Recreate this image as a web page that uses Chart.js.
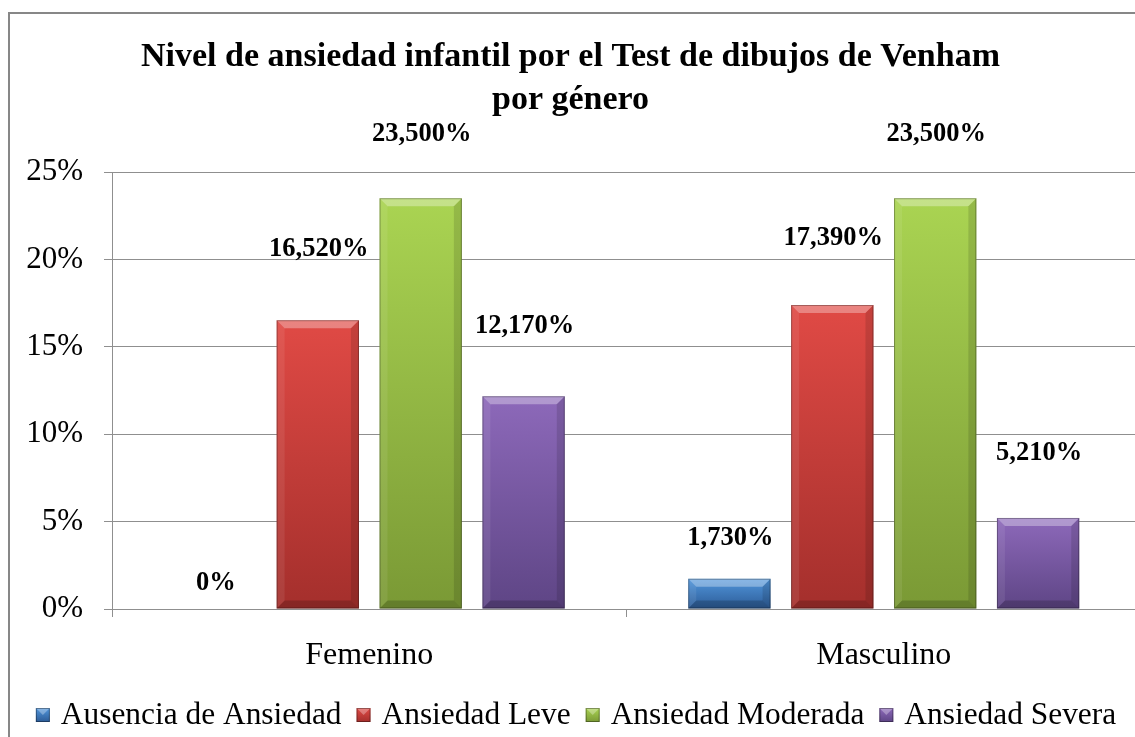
<!DOCTYPE html>
<html>
<head>
<meta charset="utf-8">
<script src="https://cdn.jsdelivr.net/npm/chart.js@4/dist/chart.umd.min.js"></script>
<style>
  html, body { margin: 0; padding: 0; background: #ffffff; overflow: hidden; }
  #wrap { position: absolute; left: 0; top: 0; width: 1152px; height: 737px; }
</style>
</head>
<body>
<div id="wrap"><canvas id="c" width="1152" height="737"></canvas></div>
<script>
// ---- data ----
const categories = ['Femenino', 'Masculino'];
const seriesNames = ['Ausencia de Ansiedad', 'Ansiedad Leve', 'Ansiedad Moderada', 'Ansiedad Severa'];
const ausencia = [0, 1.73];
const leve = [16.52, 17.39];
const moderada = [23.5, 23.5];
const severa = [12.17, 5.21];
const yTicks = [0, 5, 10, 15, 20, 25];
const titleLines = ['Nivel de ansiedad infantil por el Test de dibujos de Venham', 'por género'];

// ---- style ----
const SERIF = "'Liberation Serif', 'Times New Roman', serif";
const palette = [
  { top: '#5196DC', bottom: '#2C5B96' },
  { top: '#E04A45', bottom: '#A42F2C' },
  { top: '#AAD452', bottom: '#7A9935' },
  { top: '#8D69BA', bottom: '#5E4585' }
];
// vertical distance (px) from bar top to the centre of each value label, per series / category
const labelOffsets = [[26, 41], [71, 67], [64, 64], [70, 65]];
const GRID = '#8f8f8f';

function fmt(v) {
  return v === 0 ? '0%' : v.toFixed(3).replace('.', ',') + '%';
}

function barGradient(idx) {
  return function (ctx) {
    const chart = ctx.chart;
    const ys = chart.scales && chart.scales.y;
    if (!ys || ctx.parsed == null || ctx.parsed.y == null) return palette[idx].top;
    const yTop = ys.getPixelForValue(ctx.parsed.y);
    const yBase = ys.getPixelForValue(0);
    if (!isFinite(yTop) || Math.abs(yBase - yTop) < 1) return palette[idx].top;
    const g = chart.ctx.createLinearGradient(0, yTop, 0, yBase);
    g.addColorStop(0, palette[idx].top);
    g.addColorStop(1, palette[idx].bottom);
    return g;
  };
}

const borderPlugin = {
  id: 'frame',
  beforeDraw(chart) {
    const c = chart.ctx;
    c.save();
    c.fillStyle = '#ffffff';
    c.fillRect(0, 0, chart.width, chart.height);
    c.strokeStyle = '#878787';
    c.lineWidth = 2;
    c.beginPath();
    c.moveTo(9, chart.height + 5);
    c.lineTo(9, 13);
    c.lineTo(chart.width + 5, 13);
    c.stroke();
    c.restore();
  }
};

const bevelPlugin = {
  id: 'bevel',
  afterDatasetsDraw(chart) {
    const c = chart.ctx;
    chart.data.datasets.forEach((ds, di) => {
      const meta = chart.getDatasetMeta(di);
      meta.data.forEach((bar) => {
        const x0 = bar.x - bar.width / 2, x1 = bar.x + bar.width / 2;
        const y0 = bar.y, y1 = bar.base;
        const h = y1 - y0;
        if (h < 1) return;
        const b = Math.min(8, h / 2);
        c.save();
        const poly = (pts, col) => {
          c.beginPath();
          c.moveTo(pts[0][0], pts[0][1]);
          for (let i = 1; i < pts.length; i++) c.lineTo(pts[i][0], pts[i][1]);
          c.closePath();
          c.fillStyle = col;
          c.fill();
        };
        poly([[x0, y0], [x1, y0], [x1 - b, y0 + b], [x0 + b, y0 + b]], 'rgba(255,255,255,0.32)');
        poly([[x0, y0], [x0 + b, y0 + b], [x0 + b, y1 - b], [x0, y1]], 'rgba(255,255,255,0.08)');
        poly([[x1, y0], [x1, y1], [x1 - b, y1 - b], [x1 - b, y0 + b]], 'rgba(0,0,0,0.12)');
        poly([[x0, y1], [x1, y1], [x1 - b, y1 - b], [x0 + b, y1 - b]], 'rgba(0,0,0,0.18)');
        c.strokeStyle = 'rgba(0,0,0,0.30)';
        c.lineWidth = 1;
        c.strokeRect(x0 + 0.5, y0 + 0.5, bar.width - 1, h - 1);
        c.restore();
      });
    });
  }
};

const valueLabelPlugin = {
  id: 'valueLabels',
  afterDatasetsDraw(chart) {
    const c = chart.ctx;
    c.save();
    c.font = 'bold 26.5px ' + SERIF;
    c.fillStyle = '#000000';
    c.textAlign = 'center';
    c.textBaseline = 'middle';
    chart.data.datasets.forEach((ds, di) => {
      const meta = chart.getDatasetMeta(di);
      meta.data.forEach((bar, i) => {
        const v = ds.data[i];
        c.fillText(fmt(v), bar.x + 1, bar.y - labelOffsets[di][i]);
      });
    });
    c.restore();
  }
};

const legendPlugin = {
  id: 'customLegend',
  afterDraw(chart) {
    const c = chart.ctx;
    c.save();
    c.font = '31.4px ' + SERIF;
    const box = 14, gapText = 11, gapItem = 15;
    const items = chart.data.datasets.map((ds, di) => ({ text: ds.label, w: c.measureText(ds.label).width, di }));
    let total = 0;
    items.forEach((it, k) => { total += box + gapText + it.w + (k < items.length - 1 ? gapItem : 0); });
    let x = 576 - total / 2;
    const yc = 715;
    items.forEach((it) => {
      const g = c.createLinearGradient(0, yc - box / 2, 0, yc + box / 2);
      g.addColorStop(0, palette[it.di].top);
      g.addColorStop(1, palette[it.di].bottom);
      c.fillStyle = g;
      c.fillRect(x, yc - box / 2, box, box);
      c.fillStyle = 'rgba(255,255,255,0.3)';
      c.beginPath();
      c.moveTo(x, yc - box / 2); c.lineTo(x + box, yc - box / 2); c.lineTo(x + box / 2, yc); c.closePath(); c.fill();
      c.strokeStyle = 'rgba(0,0,0,0.35)';
      c.lineWidth = 1;
      c.strokeRect(x + 0.5, yc - box / 2 + 0.5, box - 1, box - 1);
      c.fillStyle = '#000000';
      c.textAlign = 'left';
      c.textBaseline = 'middle';
      c.fillText(it.text, x + box + gapText, yc + 1);
      x += box + gapText + it.w + gapItem;
    });
    c.restore();
  }
};

const seriesData = [ausencia, leve, moderada, severa];

new Chart(document.getElementById('c'), {
  type: 'bar',
  data: {
    labels: categories,
    datasets: seriesNames.map((name, i) => ({
      label: name,
      data: seriesData[i],
      backgroundColor: barGradient(i),
      borderWidth: 0,
      categoryPercentage: 0.8,
      barPercentage: 0.8
    }))
  },
  options: {
    responsive: false,
    animation: false,
    devicePixelRatio: 1,
    layout: { padding: { left: 0, right: 11, top: 0, bottom: 68 } },
    plugins: {
      legend: { display: false },
      tooltip: { enabled: false },
      title: {
        display: true,
        text: titleLines,
        color: '#000000',
        font: { family: SERIF, size: 34, weight: 'bold', lineHeight: '43px' },
        padding: { top: 36, bottom: 50 }
      }
    },
    scales: {
      x: {
        offset: true,
        grid: { display: true, drawOnChartArea: false, drawTicks: true, tickLength: 8, color: GRID },
        border: { display: true, color: GRID, width: 1 },
        ticks: { color: '#000000', font: { family: SERIF, size: 32 }, padding: 19 },
        afterFit(scale) { scale.height = 60; }
      },
      y: {
        min: 0,
        max: 25,
        afterBuildTicks(scale) { scale.ticks = yTicks.map(v => ({ value: v })); },
        grid: { color: GRID, tickLength: 8, drawTicks: true },
        border: { display: true, color: GRID, width: 1 },
        ticks: { color: '#000000', font: { family: SERIF, size: 31 }, padding: 21, callback: (v) => v + '%' },
        afterFit(scale) { scale.width = 112; }
      }
    }
  },
  plugins: [borderPlugin, bevelPlugin, valueLabelPlugin, legendPlugin]
});
</script>
</body>
</html>
